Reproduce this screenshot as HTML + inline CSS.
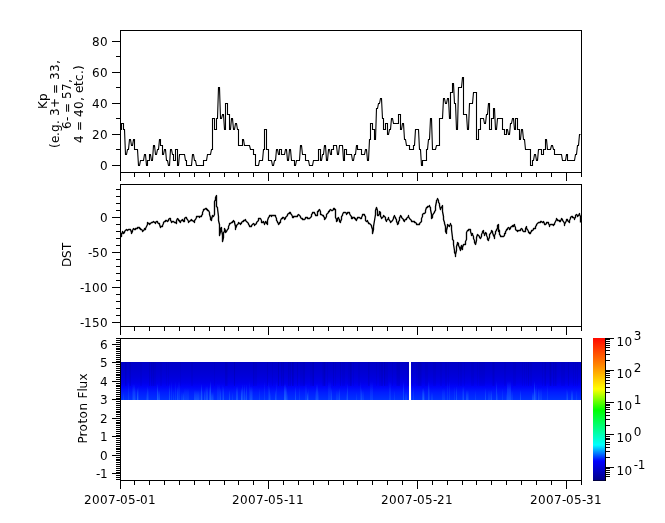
<!DOCTYPE html>
<html><head><meta charset="utf-8"><title>Kp, DST, Proton Flux</title>
<style>
html,body{margin:0;padding:0;background:#fff;}
body{width:665px;height:523px;overflow:hidden;}
svg{display:block;position:absolute;left:0;top:0;}
text{fill:#000;}
</style></head><body>
<svg width="665" height="523" viewBox="0 0 665 523">
<defs>
<linearGradient id="cb" x1="0" y1="0" x2="0" y2="1">
<stop offset="0" stop-color="#ff0800"/>
<stop offset="0.1818" stop-color="#ff8000"/>
<stop offset="0.3566" stop-color="#ffff00"/>
<stop offset="0.5035" stop-color="#00ff00"/>
<stop offset="0.7483" stop-color="#00ffff"/>
<stop offset="0.8601" stop-color="#0000ff"/>
<stop offset="1" stop-color="#000084"/>
</linearGradient>
<linearGradient id="band" x1="0" y1="0" x2="0" y2="1">
<stop offset="0" stop-color="#0000c6"/>
<stop offset="0.20" stop-color="#0000d0"/>
<stop offset="0.40" stop-color="#0000dc"/>
<stop offset="0.55" stop-color="#0000ea"/>
<stop offset="0.65" stop-color="#0004fa"/>
<stop offset="0.80" stop-color="#001cff"/>
<stop offset="1" stop-color="#0034ff"/>
</linearGradient>
<linearGradient id="lt" x1="0" y1="0" x2="0" y2="1">
<stop offset="0" stop-color="#2070ff" stop-opacity="0"/>
<stop offset="0.5" stop-color="#2070ff" stop-opacity="0.7"/>
<stop offset="1" stop-color="#2878ff" stop-opacity="1"/>
</linearGradient>
</defs>
<rect x="0" y="0" width="665" height="523" fill="#fff"/>
<g shape-rendering="crispEdges">
<rect x="121" y="362" width="460" height="38" fill="url(#band)"/>
<rect x="121" y="362" width="1" height="24" fill="#000070" opacity="0.07"/><rect x="125" y="362" width="1" height="24" fill="#000070" opacity="0.14"/><rect x="126" y="362" width="1" height="24" fill="#000070" opacity="0.07"/><rect x="129" y="362" width="1" height="24" fill="#000070" opacity="0.07"/><rect x="130" y="362" width="1" height="24" fill="#000070" opacity="0.14"/><rect x="140" y="362" width="2" height="24" fill="#000070" opacity="0.07"/><rect x="149" y="362" width="1" height="24" fill="#000070" opacity="0.14"/><rect x="151" y="362" width="1" height="24" fill="#000070" opacity="0.14"/><rect x="152" y="362" width="1" height="24" fill="#000070" opacity="0.07"/><rect x="153" y="362" width="1" height="24" fill="#000070" opacity="0.14"/><rect x="154" y="362" width="2" height="24" fill="#000070" opacity="0.07"/><rect x="160" y="362" width="2" height="24" fill="#000070" opacity="0.07"/><rect x="166" y="362" width="1" height="24" fill="#000070" opacity="0.07"/><rect x="168" y="362" width="1" height="24" fill="#000070" opacity="0.07"/><rect x="180" y="362" width="1" height="24" fill="#000070" opacity="0.07"/><rect x="191" y="362" width="2" height="24" fill="#000070" opacity="0.07"/><rect x="214" y="362" width="1" height="24" fill="#000070" opacity="0.07"/><rect x="225" y="362" width="2" height="24" fill="#000070" opacity="0.14"/><rect x="227" y="362" width="1" height="24" fill="#000070" opacity="0.07"/><rect x="234" y="362" width="1" height="24" fill="#000070" opacity="0.21"/><rect x="253" y="362" width="1" height="24" fill="#000070" opacity="0.14"/><rect x="254" y="362" width="3" height="24" fill="#000070" opacity="0.07"/><rect x="267" y="362" width="1" height="24" fill="#000070" opacity="0.14"/><rect x="272" y="362" width="1" height="24" fill="#000070" opacity="0.07"/><rect x="278" y="362" width="1" height="24" fill="#000070" opacity="0.21"/><rect x="281" y="362" width="1" height="24" fill="#000070" opacity="0.14"/><rect x="282" y="362" width="1" height="24" fill="#000070" opacity="0.07"/><rect x="283" y="362" width="1" height="24" fill="#000070" opacity="0.14"/><rect x="288" y="362" width="1" height="24" fill="#000070" opacity="0.14"/><rect x="289" y="362" width="1" height="24" fill="#000070" opacity="0.07"/><rect x="290" y="362" width="1" height="24" fill="#000070" opacity="0.14"/><rect x="292" y="362" width="1" height="24" fill="#000070" opacity="0.21"/><rect x="293" y="362" width="1" height="24" fill="#000070" opacity="0.14"/><rect x="297" y="362" width="1" height="24" fill="#000070" opacity="0.14"/><rect x="300" y="362" width="3" height="24" fill="#000070" opacity="0.07"/><rect x="303" y="362" width="2" height="24" fill="#000070" opacity="0.14"/><rect x="310" y="362" width="2" height="24" fill="#000070" opacity="0.07"/><rect x="312" y="362" width="1" height="24" fill="#000070" opacity="0.14"/><rect x="313" y="362" width="1" height="24" fill="#000070" opacity="0.21"/><rect x="322" y="362" width="1" height="24" fill="#000070" opacity="0.07"/><rect x="323" y="362" width="1" height="24" fill="#000070" opacity="0.14"/><rect x="324" y="362" width="1" height="24" fill="#000070" opacity="0.21"/><rect x="325" y="362" width="1" height="24" fill="#000070" opacity="0.07"/><rect x="327" y="362" width="1" height="24" fill="#000070" opacity="0.07"/><rect x="333" y="362" width="1" height="24" fill="#000070" opacity="0.14"/><rect x="335" y="362" width="1" height="24" fill="#000070" opacity="0.07"/><rect x="340" y="362" width="1" height="24" fill="#000070" opacity="0.14"/><rect x="342" y="362" width="3" height="24" fill="#000070" opacity="0.07"/><rect x="348" y="362" width="2" height="24" fill="#000070" opacity="0.07"/><rect x="350" y="362" width="1" height="24" fill="#000070" opacity="0.21"/><rect x="351" y="362" width="1" height="24" fill="#000070" opacity="0.14"/><rect x="353" y="362" width="1" height="24" fill="#000070" opacity="0.07"/><rect x="358" y="362" width="2" height="24" fill="#000070" opacity="0.07"/><rect x="368" y="362" width="1" height="24" fill="#000070" opacity="0.14"/><rect x="369" y="362" width="1" height="24" fill="#000070" opacity="0.07"/><rect x="376" y="362" width="1" height="24" fill="#000070" opacity="0.07"/><rect x="379" y="362" width="2" height="24" fill="#000070" opacity="0.07"/><rect x="381" y="362" width="2" height="24" fill="#000070" opacity="0.14"/><rect x="384" y="362" width="1" height="24" fill="#000070" opacity="0.21"/><rect x="385" y="362" width="3" height="24" fill="#000070" opacity="0.07"/><rect x="392" y="362" width="1" height="24" fill="#000070" opacity="0.07"/><rect x="396" y="362" width="1" height="24" fill="#000070" opacity="0.07"/><rect x="397" y="362" width="3" height="24" fill="#000070" opacity="0.14"/><rect x="407" y="362" width="1" height="24" fill="#000070" opacity="0.07"/><rect x="408" y="362" width="2" height="24" fill="#000070" opacity="0.14"/><rect x="412" y="362" width="1" height="24" fill="#000070" opacity="0.07"/><rect x="416" y="362" width="2" height="24" fill="#000070" opacity="0.07"/><rect x="418" y="362" width="3" height="24" fill="#000070" opacity="0.14"/><rect x="421" y="362" width="1" height="24" fill="#000070" opacity="0.07"/><rect x="425" y="362" width="3" height="24" fill="#000070" opacity="0.07"/><rect x="433" y="362" width="3" height="24" fill="#000070" opacity="0.07"/><rect x="440" y="362" width="2" height="24" fill="#000070" opacity="0.07"/><rect x="445" y="362" width="2" height="24" fill="#000070" opacity="0.07"/><rect x="448" y="362" width="1" height="24" fill="#000070" opacity="0.07"/><rect x="458" y="362" width="1" height="24" fill="#000070" opacity="0.07"/><rect x="460" y="362" width="2" height="24" fill="#000070" opacity="0.07"/><rect x="464" y="362" width="1" height="24" fill="#000070" opacity="0.07"/><rect x="471" y="362" width="3" height="24" fill="#000070" opacity="0.07"/><rect x="477" y="362" width="1" height="24" fill="#000070" opacity="0.07"/><rect x="479" y="362" width="6" height="24" fill="#000070" opacity="0.07"/><rect x="492" y="362" width="1" height="24" fill="#000070" opacity="0.07"/><rect x="493" y="362" width="1" height="24" fill="#000070" opacity="0.14"/><rect x="494" y="362" width="1" height="24" fill="#000070" opacity="0.07"/><rect x="504" y="362" width="2" height="24" fill="#000070" opacity="0.07"/><rect x="513" y="362" width="3" height="24" fill="#000070" opacity="0.07"/><rect x="522" y="362" width="1" height="24" fill="#000070" opacity="0.07"/><rect x="524" y="362" width="1" height="24" fill="#000070" opacity="0.07"/><rect x="526" y="362" width="1" height="24" fill="#000070" opacity="0.07"/><rect x="528" y="362" width="1" height="24" fill="#000070" opacity="0.14"/><rect x="530" y="362" width="2" height="24" fill="#000070" opacity="0.07"/><rect x="542" y="362" width="1" height="24" fill="#000070" opacity="0.07"/><rect x="544" y="362" width="1" height="24" fill="#000070" opacity="0.07"/><rect x="545" y="362" width="1" height="24" fill="#000070" opacity="0.14"/><rect x="549" y="362" width="1" height="24" fill="#000070" opacity="0.07"/><rect x="550" y="362" width="1" height="24" fill="#000070" opacity="0.21"/><rect x="551" y="362" width="1" height="24" fill="#000070" opacity="0.07"/><rect x="553" y="362" width="1" height="24" fill="#000070" opacity="0.14"/><rect x="554" y="362" width="1" height="24" fill="#000070" opacity="0.07"/><rect x="555" y="362" width="1" height="24" fill="#000070" opacity="0.14"/><rect x="556" y="362" width="1" height="24" fill="#000070" opacity="0.07"/><rect x="561" y="362" width="4" height="24" fill="#000070" opacity="0.07"/><rect x="568" y="362" width="1" height="24" fill="#000070" opacity="0.14"/><rect x="573" y="362" width="1" height="24" fill="#000070" opacity="0.07"/><rect x="575" y="362" width="1" height="24" fill="#000070" opacity="0.07"/><rect x="577" y="362" width="1" height="24" fill="#000070" opacity="0.07"/><rect x="123" y="392" width="1" height="8" fill="url(#lt)" opacity="0.24"/><rect x="128" y="381" width="1" height="19" fill="url(#lt)" opacity="0.24"/><rect x="132" y="384" width="1" height="16" fill="url(#lt)" opacity="0.24"/><rect x="133" y="384" width="2" height="16" fill="url(#lt)" opacity="0.48"/><rect x="135" y="388" width="1" height="12" fill="url(#lt)" opacity="0.24"/><rect x="137" y="388" width="1" height="12" fill="url(#lt)" opacity="0.72"/><rect x="138" y="386" width="1" height="14" fill="url(#lt)" opacity="0.24"/><rect x="146" y="392" width="1" height="8" fill="url(#lt)" opacity="0.24"/><rect x="147" y="386" width="1" height="14" fill="url(#lt)" opacity="0.48"/><rect x="148" y="388" width="1" height="12" fill="url(#lt)" opacity="0.24"/><rect x="157" y="384" width="1" height="16" fill="url(#lt)" opacity="0.72"/><rect x="158" y="390" width="2" height="10" fill="url(#lt)" opacity="0.48"/><rect x="169" y="384" width="1" height="16" fill="url(#lt)" opacity="0.48"/><rect x="171" y="381" width="1" height="19" fill="url(#lt)" opacity="0.24"/><rect x="173" y="390" width="1" height="10" fill="url(#lt)" opacity="0.24"/><rect x="175" y="381" width="1" height="19" fill="url(#lt)" opacity="0.24"/><rect x="177" y="386" width="1" height="14" fill="url(#lt)" opacity="0.48"/><rect x="178" y="381" width="2" height="19" fill="url(#lt)" opacity="0.24"/><rect x="181" y="392" width="2" height="8" fill="url(#lt)" opacity="0.24"/><rect x="183" y="392" width="1" height="8" fill="url(#lt)" opacity="0.48"/><rect x="184" y="388" width="5" height="12" fill="url(#lt)" opacity="0.24"/><rect x="194" y="390" width="5" height="10" fill="url(#lt)" opacity="0.48"/><rect x="199" y="390" width="2" height="10" fill="url(#lt)" opacity="0.24"/><rect x="201" y="384" width="1" height="16" fill="url(#lt)" opacity="0.72"/><rect x="202" y="390" width="1" height="10" fill="url(#lt)" opacity="0.24"/><rect x="204" y="390" width="1" height="10" fill="url(#lt)" opacity="0.48"/><rect x="205" y="386" width="1" height="14" fill="url(#lt)" opacity="0.24"/><rect x="206" y="386" width="2" height="14" fill="url(#lt)" opacity="0.48"/><rect x="209" y="386" width="1" height="14" fill="url(#lt)" opacity="0.48"/><rect x="210" y="381" width="1" height="19" fill="url(#lt)" opacity="0.72"/><rect x="211" y="392" width="2" height="8" fill="url(#lt)" opacity="0.48"/><rect x="213" y="392" width="1" height="8" fill="url(#lt)" opacity="0.24"/><rect x="217" y="384" width="3" height="16" fill="url(#lt)" opacity="0.24"/><rect x="220" y="388" width="1" height="12" fill="url(#lt)" opacity="0.48"/><rect x="222" y="384" width="1" height="16" fill="url(#lt)" opacity="0.24"/><rect x="223" y="386" width="1" height="14" fill="url(#lt)" opacity="0.48"/><rect x="229" y="390" width="1" height="10" fill="url(#lt)" opacity="0.48"/><rect x="232" y="392" width="1" height="8" fill="url(#lt)" opacity="0.24"/><rect x="236" y="386" width="2" height="14" fill="url(#lt)" opacity="0.48"/><rect x="241" y="388" width="1" height="12" fill="url(#lt)" opacity="0.72"/><rect x="242" y="384" width="1" height="16" fill="url(#lt)" opacity="0.48"/><rect x="243" y="388" width="1" height="12" fill="url(#lt)" opacity="0.24"/><rect x="244" y="384" width="1" height="16" fill="url(#lt)" opacity="0.48"/><rect x="245" y="392" width="1" height="8" fill="url(#lt)" opacity="0.24"/><rect x="246" y="384" width="1" height="16" fill="url(#lt)" opacity="0.48"/><rect x="249" y="381" width="1" height="19" fill="url(#lt)" opacity="0.24"/><rect x="250" y="386" width="2" height="14" fill="url(#lt)" opacity="0.48"/><rect x="252" y="386" width="1" height="14" fill="url(#lt)" opacity="0.24"/><rect x="259" y="388" width="1" height="12" fill="url(#lt)" opacity="0.24"/><rect x="264" y="381" width="1" height="19" fill="url(#lt)" opacity="0.24"/><rect x="268" y="381" width="1" height="19" fill="url(#lt)" opacity="0.24"/><rect x="269" y="386" width="1" height="14" fill="url(#lt)" opacity="0.48"/><rect x="270" y="392" width="1" height="8" fill="url(#lt)" opacity="0.24"/><rect x="275" y="390" width="1" height="10" fill="url(#lt)" opacity="0.48"/><rect x="276" y="381" width="1" height="19" fill="url(#lt)" opacity="0.24"/><rect x="284" y="384" width="2" height="16" fill="url(#lt)" opacity="0.72"/><rect x="286" y="386" width="1" height="14" fill="url(#lt)" opacity="0.48"/><rect x="287" y="392" width="1" height="8" fill="url(#lt)" opacity="0.24"/><rect x="295" y="386" width="1" height="14" fill="url(#lt)" opacity="0.48"/><rect x="299" y="386" width="1" height="14" fill="url(#lt)" opacity="0.24"/><rect x="305" y="384" width="2" height="16" fill="url(#lt)" opacity="0.24"/><rect x="307" y="392" width="1" height="8" fill="url(#lt)" opacity="0.72"/><rect x="308" y="388" width="1" height="12" fill="url(#lt)" opacity="0.24"/><rect x="315" y="390" width="1" height="10" fill="url(#lt)" opacity="0.24"/><rect x="316" y="384" width="2" height="16" fill="url(#lt)" opacity="0.48"/><rect x="318" y="390" width="1" height="10" fill="url(#lt)" opacity="0.24"/><rect x="328" y="381" width="3" height="19" fill="url(#lt)" opacity="0.24"/><rect x="331" y="388" width="1" height="12" fill="url(#lt)" opacity="0.48"/><rect x="336" y="390" width="3" height="10" fill="url(#lt)" opacity="0.24"/><rect x="339" y="388" width="1" height="12" fill="url(#lt)" opacity="0.48"/><rect x="346" y="392" width="1" height="8" fill="url(#lt)" opacity="0.24"/><rect x="347" y="384" width="1" height="16" fill="url(#lt)" opacity="0.48"/><rect x="356" y="392" width="1" height="8" fill="url(#lt)" opacity="0.24"/><rect x="360" y="381" width="1" height="19" fill="url(#lt)" opacity="0.24"/><rect x="361" y="388" width="1" height="12" fill="url(#lt)" opacity="0.48"/><rect x="362" y="390" width="2" height="10" fill="url(#lt)" opacity="0.24"/><rect x="370" y="381" width="3" height="19" fill="url(#lt)" opacity="0.24"/><rect x="389" y="381" width="2" height="19" fill="url(#lt)" opacity="0.24"/><rect x="394" y="390" width="1" height="10" fill="url(#lt)" opacity="0.24"/><rect x="403" y="381" width="1" height="19" fill="url(#lt)" opacity="0.48"/><rect x="405" y="392" width="2" height="8" fill="url(#lt)" opacity="0.24"/><rect x="411" y="384" width="1" height="16" fill="url(#lt)" opacity="0.24"/><rect x="413" y="386" width="1" height="14" fill="url(#lt)" opacity="0.24"/><rect x="422" y="388" width="1" height="12" fill="url(#lt)" opacity="0.48"/><rect x="423" y="388" width="1" height="12" fill="url(#lt)" opacity="0.72"/><rect x="424" y="390" width="1" height="10" fill="url(#lt)" opacity="0.24"/><rect x="428" y="381" width="1" height="19" fill="url(#lt)" opacity="0.48"/><rect x="429" y="384" width="1" height="16" fill="url(#lt)" opacity="0.24"/><rect x="431" y="392" width="2" height="8" fill="url(#lt)" opacity="0.24"/><rect x="442" y="388" width="3" height="12" fill="url(#lt)" opacity="0.24"/><rect x="447" y="381" width="1" height="19" fill="url(#lt)" opacity="0.24"/><rect x="449" y="381" width="1" height="19" fill="url(#lt)" opacity="0.24"/><rect x="454" y="386" width="1" height="14" fill="url(#lt)" opacity="0.24"/><rect x="456" y="386" width="1" height="14" fill="url(#lt)" opacity="0.48"/><rect x="462" y="386" width="1" height="14" fill="url(#lt)" opacity="0.24"/><rect x="463" y="386" width="1" height="14" fill="url(#lt)" opacity="0.48"/><rect x="466" y="390" width="2" height="10" fill="url(#lt)" opacity="0.48"/><rect x="468" y="390" width="1" height="10" fill="url(#lt)" opacity="0.24"/><rect x="475" y="390" width="1" height="10" fill="url(#lt)" opacity="0.24"/><rect x="485" y="388" width="1" height="12" fill="url(#lt)" opacity="0.48"/><rect x="488" y="390" width="3" height="10" fill="url(#lt)" opacity="0.24"/><rect x="491" y="390" width="1" height="10" fill="url(#lt)" opacity="0.48"/><rect x="496" y="381" width="1" height="19" fill="url(#lt)" opacity="0.48"/><rect x="497" y="392" width="1" height="8" fill="url(#lt)" opacity="0.24"/><rect x="502" y="388" width="1" height="12" fill="url(#lt)" opacity="0.24"/><rect x="506" y="392" width="1" height="8" fill="url(#lt)" opacity="0.24"/><rect x="507" y="381" width="4" height="19" fill="url(#lt)" opacity="0.48"/><rect x="511" y="390" width="2" height="10" fill="url(#lt)" opacity="0.24"/><rect x="520" y="390" width="1" height="10" fill="url(#lt)" opacity="0.48"/><rect x="532" y="392" width="2" height="8" fill="url(#lt)" opacity="0.48"/><rect x="534" y="381" width="1" height="19" fill="url(#lt)" opacity="0.72"/><rect x="535" y="388" width="1" height="12" fill="url(#lt)" opacity="0.48"/><rect x="536" y="384" width="1" height="16" fill="url(#lt)" opacity="0.24"/><rect x="538" y="388" width="1" height="12" fill="url(#lt)" opacity="0.48"/><rect x="539" y="388" width="3" height="12" fill="url(#lt)" opacity="0.24"/><rect x="547" y="384" width="1" height="16" fill="url(#lt)" opacity="0.24"/><rect x="566" y="388" width="1" height="12" fill="url(#lt)" opacity="0.24"/><rect x="567" y="390" width="1" height="10" fill="url(#lt)" opacity="0.48"/><rect x="571" y="390" width="2" height="10" fill="url(#lt)" opacity="0.48"/><rect x="576" y="390" width="1" height="10" fill="url(#lt)" opacity="0.24"/>
<rect x="409" y="362" width="2" height="38" fill="#fff"/>
<rect x="593" y="338" width="12" height="143" fill="url(#cb)"/>
<rect x="593" y="480" width="13" height="1" fill="#000040"/>
<rect x="120" y="30" width="462" height="1" fill="#000"/><rect x="120" y="172" width="462" height="1" fill="#000"/><rect x="120" y="30" width="1" height="143" fill="#000"/><rect x="581" y="30" width="1" height="143" fill="#000"/><rect x="120" y="173" width="1" height="8" fill="#000"/><rect x="134" y="173" width="1" height="4" fill="#000"/><rect x="149" y="173" width="1" height="4" fill="#000"/><rect x="164" y="173" width="1" height="4" fill="#000"/><rect x="179" y="173" width="1" height="4" fill="#000"/><rect x="194" y="173" width="1" height="4" fill="#000"/><rect x="209" y="173" width="1" height="4" fill="#000"/><rect x="224" y="173" width="1" height="4" fill="#000"/><rect x="238" y="173" width="1" height="4" fill="#000"/><rect x="253" y="173" width="1" height="4" fill="#000"/><rect x="268" y="173" width="1" height="8" fill="#000"/><rect x="283" y="173" width="1" height="4" fill="#000"/><rect x="298" y="173" width="1" height="4" fill="#000"/><rect x="313" y="173" width="1" height="4" fill="#000"/><rect x="328" y="173" width="1" height="4" fill="#000"/><rect x="343" y="173" width="1" height="4" fill="#000"/><rect x="357" y="173" width="1" height="4" fill="#000"/><rect x="372" y="173" width="1" height="4" fill="#000"/><rect x="387" y="173" width="1" height="4" fill="#000"/><rect x="402" y="173" width="1" height="4" fill="#000"/><rect x="417" y="173" width="1" height="8" fill="#000"/><rect x="432" y="173" width="1" height="4" fill="#000"/><rect x="447" y="173" width="1" height="4" fill="#000"/><rect x="462" y="173" width="1" height="4" fill="#000"/><rect x="476" y="173" width="1" height="4" fill="#000"/><rect x="491" y="173" width="1" height="4" fill="#000"/><rect x="506" y="173" width="1" height="4" fill="#000"/><rect x="521" y="173" width="1" height="4" fill="#000"/><rect x="536" y="173" width="1" height="4" fill="#000"/><rect x="551" y="173" width="1" height="4" fill="#000"/><rect x="566" y="173" width="1" height="8" fill="#000"/><rect x="581" y="173" width="1" height="4" fill="#000"/><rect x="112" y="165" width="8" height="1" fill="#000"/><rect x="116" y="149" width="4" height="1" fill="#000"/><rect x="112" y="134" width="8" height="1" fill="#000"/><rect x="116" y="118" width="4" height="1" fill="#000"/><rect x="112" y="103" width="8" height="1" fill="#000"/><rect x="116" y="87" width="4" height="1" fill="#000"/><rect x="112" y="72" width="8" height="1" fill="#000"/><rect x="116" y="56" width="4" height="1" fill="#000"/><rect x="112" y="41" width="8" height="1" fill="#000"/><rect x="120" y="184" width="462" height="1" fill="#000"/><rect x="120" y="326" width="462" height="1" fill="#000"/><rect x="120" y="184" width="1" height="143" fill="#000"/><rect x="581" y="184" width="1" height="143" fill="#000"/><rect x="120" y="327" width="1" height="8" fill="#000"/><rect x="134" y="327" width="1" height="4" fill="#000"/><rect x="149" y="327" width="1" height="4" fill="#000"/><rect x="164" y="327" width="1" height="4" fill="#000"/><rect x="179" y="327" width="1" height="4" fill="#000"/><rect x="194" y="327" width="1" height="4" fill="#000"/><rect x="209" y="327" width="1" height="4" fill="#000"/><rect x="224" y="327" width="1" height="4" fill="#000"/><rect x="238" y="327" width="1" height="4" fill="#000"/><rect x="253" y="327" width="1" height="4" fill="#000"/><rect x="268" y="327" width="1" height="8" fill="#000"/><rect x="283" y="327" width="1" height="4" fill="#000"/><rect x="298" y="327" width="1" height="4" fill="#000"/><rect x="313" y="327" width="1" height="4" fill="#000"/><rect x="328" y="327" width="1" height="4" fill="#000"/><rect x="343" y="327" width="1" height="4" fill="#000"/><rect x="357" y="327" width="1" height="4" fill="#000"/><rect x="372" y="327" width="1" height="4" fill="#000"/><rect x="387" y="327" width="1" height="4" fill="#000"/><rect x="402" y="327" width="1" height="4" fill="#000"/><rect x="417" y="327" width="1" height="8" fill="#000"/><rect x="432" y="327" width="1" height="4" fill="#000"/><rect x="447" y="327" width="1" height="4" fill="#000"/><rect x="462" y="327" width="1" height="4" fill="#000"/><rect x="476" y="327" width="1" height="4" fill="#000"/><rect x="491" y="327" width="1" height="4" fill="#000"/><rect x="506" y="327" width="1" height="4" fill="#000"/><rect x="521" y="327" width="1" height="4" fill="#000"/><rect x="536" y="327" width="1" height="4" fill="#000"/><rect x="551" y="327" width="1" height="4" fill="#000"/><rect x="566" y="327" width="1" height="8" fill="#000"/><rect x="581" y="327" width="1" height="4" fill="#000"/><rect x="112" y="322" width="8" height="1" fill="#000"/><rect x="116" y="315" width="4" height="1" fill="#000"/><rect x="116" y="308" width="4" height="1" fill="#000"/><rect x="116" y="301" width="4" height="1" fill="#000"/><rect x="116" y="294" width="4" height="1" fill="#000"/><rect x="112" y="287" width="8" height="1" fill="#000"/><rect x="116" y="280" width="4" height="1" fill="#000"/><rect x="116" y="273" width="4" height="1" fill="#000"/><rect x="116" y="266" width="4" height="1" fill="#000"/><rect x="116" y="259" width="4" height="1" fill="#000"/><rect x="112" y="252" width="8" height="1" fill="#000"/><rect x="116" y="245" width="4" height="1" fill="#000"/><rect x="116" y="238" width="4" height="1" fill="#000"/><rect x="116" y="231" width="4" height="1" fill="#000"/><rect x="116" y="224" width="4" height="1" fill="#000"/><rect x="112" y="217" width="8" height="1" fill="#000"/><rect x="116" y="210" width="4" height="1" fill="#000"/><rect x="116" y="203" width="4" height="1" fill="#000"/><rect x="116" y="196" width="4" height="1" fill="#000"/><rect x="116" y="189" width="4" height="1" fill="#000"/><rect x="120" y="338" width="462" height="1" fill="#000"/><rect x="120" y="480" width="462" height="1" fill="#000"/><rect x="120" y="338" width="1" height="143" fill="#000"/><rect x="581" y="338" width="1" height="143" fill="#000"/><rect x="120" y="481" width="1" height="8" fill="#000"/><rect x="134" y="481" width="1" height="4" fill="#000"/><rect x="149" y="481" width="1" height="4" fill="#000"/><rect x="164" y="481" width="1" height="4" fill="#000"/><rect x="179" y="481" width="1" height="4" fill="#000"/><rect x="194" y="481" width="1" height="4" fill="#000"/><rect x="209" y="481" width="1" height="4" fill="#000"/><rect x="224" y="481" width="1" height="4" fill="#000"/><rect x="238" y="481" width="1" height="4" fill="#000"/><rect x="253" y="481" width="1" height="4" fill="#000"/><rect x="268" y="481" width="1" height="8" fill="#000"/><rect x="283" y="481" width="1" height="4" fill="#000"/><rect x="298" y="481" width="1" height="4" fill="#000"/><rect x="313" y="481" width="1" height="4" fill="#000"/><rect x="328" y="481" width="1" height="4" fill="#000"/><rect x="343" y="481" width="1" height="4" fill="#000"/><rect x="357" y="481" width="1" height="4" fill="#000"/><rect x="372" y="481" width="1" height="4" fill="#000"/><rect x="387" y="481" width="1" height="4" fill="#000"/><rect x="402" y="481" width="1" height="4" fill="#000"/><rect x="417" y="481" width="1" height="8" fill="#000"/><rect x="432" y="481" width="1" height="4" fill="#000"/><rect x="447" y="481" width="1" height="4" fill="#000"/><rect x="462" y="481" width="1" height="4" fill="#000"/><rect x="476" y="481" width="1" height="4" fill="#000"/><rect x="491" y="481" width="1" height="4" fill="#000"/><rect x="506" y="481" width="1" height="4" fill="#000"/><rect x="521" y="481" width="1" height="4" fill="#000"/><rect x="536" y="481" width="1" height="4" fill="#000"/><rect x="551" y="481" width="1" height="4" fill="#000"/><rect x="566" y="481" width="1" height="8" fill="#000"/><rect x="581" y="481" width="1" height="4" fill="#000"/><rect x="116" y="479" width="4" height="1" fill="#000"/><rect x="116" y="477" width="4" height="1" fill="#000"/><rect x="116" y="475" width="4" height="1" fill="#000"/><rect x="112" y="473" width="8" height="1" fill="#000"/><rect x="116" y="472" width="4" height="1" fill="#000"/><rect x="116" y="470" width="4" height="1" fill="#000"/><rect x="116" y="468" width="4" height="1" fill="#000"/><rect x="116" y="466" width="4" height="1" fill="#000"/><rect x="116" y="464" width="4" height="1" fill="#000"/><rect x="116" y="462" width="4" height="1" fill="#000"/><rect x="116" y="460" width="4" height="1" fill="#000"/><rect x="116" y="459" width="4" height="1" fill="#000"/><rect x="116" y="457" width="4" height="1" fill="#000"/><rect x="112" y="455" width="8" height="1" fill="#000"/><rect x="116" y="453" width="4" height="1" fill="#000"/><rect x="116" y="451" width="4" height="1" fill="#000"/><rect x="116" y="449" width="4" height="1" fill="#000"/><rect x="116" y="448" width="4" height="1" fill="#000"/><rect x="116" y="446" width="4" height="1" fill="#000"/><rect x="116" y="444" width="4" height="1" fill="#000"/><rect x="116" y="442" width="4" height="1" fill="#000"/><rect x="116" y="440" width="4" height="1" fill="#000"/><rect x="116" y="438" width="4" height="1" fill="#000"/><rect x="112" y="436" width="8" height="1" fill="#000"/><rect x="116" y="435" width="4" height="1" fill="#000"/><rect x="116" y="433" width="4" height="1" fill="#000"/><rect x="116" y="431" width="4" height="1" fill="#000"/><rect x="116" y="429" width="4" height="1" fill="#000"/><rect x="116" y="427" width="4" height="1" fill="#000"/><rect x="116" y="425" width="4" height="1" fill="#000"/><rect x="116" y="423" width="4" height="1" fill="#000"/><rect x="116" y="422" width="4" height="1" fill="#000"/><rect x="116" y="420" width="4" height="1" fill="#000"/><rect x="112" y="418" width="8" height="1" fill="#000"/><rect x="116" y="416" width="4" height="1" fill="#000"/><rect x="116" y="414" width="4" height="1" fill="#000"/><rect x="116" y="412" width="4" height="1" fill="#000"/><rect x="116" y="411" width="4" height="1" fill="#000"/><rect x="116" y="409" width="4" height="1" fill="#000"/><rect x="116" y="407" width="4" height="1" fill="#000"/><rect x="116" y="405" width="4" height="1" fill="#000"/><rect x="116" y="403" width="4" height="1" fill="#000"/><rect x="116" y="401" width="4" height="1" fill="#000"/><rect x="112" y="399" width="8" height="1" fill="#000"/><rect x="116" y="398" width="4" height="1" fill="#000"/><rect x="116" y="396" width="4" height="1" fill="#000"/><rect x="116" y="394" width="4" height="1" fill="#000"/><rect x="116" y="392" width="4" height="1" fill="#000"/><rect x="116" y="390" width="4" height="1" fill="#000"/><rect x="116" y="388" width="4" height="1" fill="#000"/><rect x="116" y="386" width="4" height="1" fill="#000"/><rect x="116" y="385" width="4" height="1" fill="#000"/><rect x="116" y="383" width="4" height="1" fill="#000"/><rect x="112" y="381" width="8" height="1" fill="#000"/><rect x="116" y="379" width="4" height="1" fill="#000"/><rect x="116" y="377" width="4" height="1" fill="#000"/><rect x="116" y="375" width="4" height="1" fill="#000"/><rect x="116" y="374" width="4" height="1" fill="#000"/><rect x="116" y="372" width="4" height="1" fill="#000"/><rect x="116" y="370" width="4" height="1" fill="#000"/><rect x="116" y="368" width="4" height="1" fill="#000"/><rect x="116" y="366" width="4" height="1" fill="#000"/><rect x="116" y="364" width="4" height="1" fill="#000"/><rect x="112" y="362" width="8" height="1" fill="#000"/><rect x="116" y="361" width="4" height="1" fill="#000"/><rect x="116" y="359" width="4" height="1" fill="#000"/><rect x="116" y="357" width="4" height="1" fill="#000"/><rect x="116" y="355" width="4" height="1" fill="#000"/><rect x="116" y="353" width="4" height="1" fill="#000"/><rect x="116" y="351" width="4" height="1" fill="#000"/><rect x="116" y="349" width="4" height="1" fill="#000"/><rect x="116" y="348" width="4" height="1" fill="#000"/><rect x="116" y="346" width="4" height="1" fill="#000"/><rect x="112" y="344" width="8" height="1" fill="#000"/><rect x="116" y="342" width="4" height="1" fill="#000"/><rect x="116" y="340" width="4" height="1" fill="#000"/><rect x="116" y="338" width="4" height="1" fill="#000"/><rect x="605" y="338" width="1" height="143" fill="#000"/><rect x="606" y="338" width="8" height="1" fill="#000"/><rect x="606" y="339" width="4" height="1" fill="#000"/><rect x="606" y="341" width="4" height="1" fill="#000"/><rect x="606" y="343" width="4" height="1" fill="#000"/><rect x="606" y="345" width="4" height="1" fill="#000"/><rect x="606" y="347" width="4" height="1" fill="#000"/><rect x="606" y="350" width="4" height="1" fill="#000"/><rect x="606" y="354" width="4" height="1" fill="#000"/><rect x="606" y="360" width="4" height="1" fill="#000"/><rect x="606" y="370" width="8" height="1" fill="#000"/><rect x="606" y="371" width="4" height="1" fill="#000"/><rect x="606" y="373" width="4" height="1" fill="#000"/><rect x="606" y="375" width="4" height="1" fill="#000"/><rect x="606" y="377" width="4" height="1" fill="#000"/><rect x="606" y="380" width="4" height="1" fill="#000"/><rect x="606" y="383" width="4" height="1" fill="#000"/><rect x="606" y="387" width="4" height="1" fill="#000"/><rect x="606" y="392" width="4" height="1" fill="#000"/><rect x="606" y="402" width="8" height="1" fill="#000"/><rect x="606" y="404" width="4" height="1" fill="#000"/><rect x="606" y="405" width="4" height="1" fill="#000"/><rect x="606" y="407" width="4" height="1" fill="#000"/><rect x="606" y="409" width="4" height="1" fill="#000"/><rect x="606" y="412" width="4" height="1" fill="#000"/><rect x="606" y="415" width="4" height="1" fill="#000"/><rect x="606" y="419" width="4" height="1" fill="#000"/><rect x="606" y="425" width="4" height="1" fill="#000"/><rect x="606" y="434" width="8" height="1" fill="#000"/><rect x="606" y="436" width="4" height="1" fill="#000"/><rect x="606" y="438" width="4" height="1" fill="#000"/><rect x="606" y="439" width="4" height="1" fill="#000"/><rect x="606" y="442" width="4" height="1" fill="#000"/><rect x="606" y="444" width="4" height="1" fill="#000"/><rect x="606" y="447" width="4" height="1" fill="#000"/><rect x="606" y="451" width="4" height="1" fill="#000"/><rect x="606" y="457" width="4" height="1" fill="#000"/><rect x="606" y="467" width="8" height="1" fill="#000"/><rect x="606" y="468" width="4" height="1" fill="#000"/><rect x="606" y="470" width="4" height="1" fill="#000"/><rect x="606" y="472" width="4" height="1" fill="#000"/><rect x="606" y="474" width="4" height="1" fill="#000"/><rect x="606" y="476" width="4" height="1" fill="#000"/>
</g>
<g>
<polyline points="120.50,129.50 121.50,129.50 121.50,123.50 122.50,123.50 123.50,123.50 123.50,129.50 124.50,129.50 125.50,154.50 126.50,154.50 127.50,149.50 128.50,149.50 129.50,139.50 130.50,139.50 131.50,145.50 132.50,145.50 133.50,139.50 134.50,139.50 134.50,149.50 135.50,149.50 136.50,149.50 137.50,149.50 138.50,165.50 139.50,165.50 140.50,160.50 141.50,160.50 142.50,160.50 143.50,160.50 144.50,154.50 145.50,154.50 146.50,165.50 147.50,165.50 147.50,160.50 148.50,160.50 149.50,160.50 149.50,154.50 150.50,154.50 151.50,160.50 152.50,160.50 153.50,145.50 154.50,145.50 155.50,154.50 156.50,154.50 157.50,149.50 158.50,149.50 159.50,139.50 160.50,139.50 160.50,145.50 161.50,145.50 162.50,145.50 162.50,154.50 163.50,154.50 164.50,149.50 165.50,149.50 166.50,160.50 167.50,160.50 168.50,165.50 169.50,165.50 170.50,149.50 171.50,149.50 172.50,154.50 173.50,154.50 173.50,160.50 174.50,160.50 175.50,160.50 175.50,149.50 176.50,149.50 177.50,149.50 177.50,165.50 178.50,165.50 179.50,154.50 180.50,154.50 181.50,154.50 182.50,154.50 183.50,154.50 184.50,154.50 185.50,160.50 186.50,160.50 186.50,165.50 187.50,165.50 188.50,165.50 189.50,165.50 190.50,165.50 191.50,165.50 192.50,154.50 193.50,154.50 194.50,160.50 195.50,160.50 196.50,165.50 197.50,165.50 198.50,165.50 199.50,165.50 200.50,165.50 201.50,165.50 202.50,165.50 203.50,165.50 203.50,160.50 204.50,160.50 205.50,160.50 206.50,160.50 207.50,154.50 208.50,154.50 209.50,154.50 210.50,154.50 211.50,149.50 212.50,149.50 212.50,118.50 213.50,118.50 214.50,118.50 214.50,129.50 215.50,129.50 216.50,129.50 216.50,118.50 217.50,118.50 218.50,87.50 219.50,87.50 220.50,118.50 221.50,118.50 222.50,114.50 223.50,114.50 224.50,129.50 225.50,129.50 225.50,103.50 226.50,103.50 227.50,103.50 227.50,114.50 228.50,114.50 229.50,114.50 229.50,129.50 230.50,129.50 231.50,118.50 232.50,118.50 233.50,129.50 234.50,129.50 235.50,123.50 236.50,123.50 237.50,129.50 238.50,129.50 238.50,145.50 239.50,145.50 240.50,145.50 241.50,145.50 242.50,145.50 242.50,139.50 243.50,139.50 244.50,145.50 245.50,145.50 246.50,145.50 247.50,145.50 248.50,145.50 249.50,145.50 250.50,149.50 251.50,149.50 252.50,149.50 253.50,149.50 253.50,154.50 254.50,154.50 255.50,154.50 255.50,165.50 256.50,165.50 257.50,165.50 258.50,165.50 259.50,160.50 260.50,160.50 261.50,160.50 262.50,160.50 263.50,149.50 264.50,149.50 264.50,129.50 265.50,129.50 266.50,129.50 266.50,149.50 267.50,149.50 268.50,149.50 268.50,160.50 269.50,160.50 270.50,160.50 271.50,160.50 272.50,165.50 273.50,165.50 274.50,160.50 275.50,160.50 276.50,149.50 277.50,149.50 278.50,154.50 279.50,154.50 279.50,149.50 280.50,149.50 281.50,149.50 281.50,154.50 282.50,154.50 283.50,154.50 284.50,154.50 285.50,149.50 286.50,149.50 287.50,160.50 288.50,160.50 289.50,149.50 290.50,149.50 291.50,160.50 292.50,160.50 293.50,160.50 294.50,160.50 294.50,165.50 295.50,165.50 296.50,160.50 297.50,160.50 298.50,160.50 299.50,160.50 300.50,145.50 301.50,145.50 302.50,154.50 303.50,154.50 304.50,154.50 305.50,154.50 305.50,160.50 306.50,160.50 307.50,160.50 308.50,160.50 309.50,165.50 310.50,165.50 311.50,165.50 312.50,165.50 313.50,160.50 314.50,160.50 315.50,160.50 316.50,160.50 317.50,160.50 318.50,160.50 318.50,149.50 319.50,149.50 320.50,149.50 320.50,160.50 321.50,160.50 322.50,154.50 323.50,154.50 324.50,145.50 325.50,145.50 326.50,160.50 327.50,160.50 328.50,149.50 329.50,149.50 330.50,154.50 331.50,154.50 331.50,149.50 332.50,149.50 333.50,149.50 333.50,145.50 334.50,145.50 335.50,145.50 336.50,145.50 337.50,154.50 338.50,154.50 339.50,145.50 340.50,145.50 341.50,145.50 342.50,145.50 343.50,160.50 344.50,160.50 344.50,149.50 345.50,149.50 346.50,149.50 346.50,154.50 347.50,154.50 348.50,154.50 349.50,154.50 350.50,154.50 351.50,154.50 352.50,160.50 353.50,160.50 354.50,154.50 355.50,154.50 356.50,145.50 357.50,145.50 357.50,149.50 358.50,149.50 359.50,149.50 360.50,149.50 361.50,149.50 361.50,154.50 362.50,154.50 363.50,154.50 364.50,154.50 365.50,149.50 366.50,149.50 367.50,160.50 368.50,160.50 369.50,139.50 370.50,139.50 370.50,123.50 371.50,123.50 372.50,123.50 372.50,129.50 373.50,129.50 374.50,129.50 374.50,139.50 375.50,139.50 376.50,108.50 377.50,108.50 378.50,103.50 379.50,103.50 380.50,98.50 381.50,98.50 382.50,118.50 383.50,118.50 383.50,129.50 384.50,129.50 385.50,129.50 385.50,123.50 386.50,123.50 387.50,123.50 387.50,134.50 388.50,134.50 389.50,129.50 390.50,129.50 391.50,118.50 392.50,118.50 393.50,123.50 394.50,123.50 395.50,123.50 396.50,123.50 397.50,123.50 398.50,123.50 398.50,114.50 399.50,114.50 400.50,114.50 400.50,129.50 401.50,129.50 402.50,123.50 403.50,123.50 404.50,139.50 405.50,139.50 406.50,145.50 407.50,145.50 408.50,145.50 409.50,145.50 409.50,149.50 410.50,149.50 411.50,149.50 412.50,149.50 413.50,149.50 413.50,145.50 414.50,145.50 415.50,129.50 416.50,129.50 417.50,129.50 418.50,129.50 419.50,149.50 420.50,149.50 421.50,165.50 422.50,165.50 422.50,160.50 423.50,160.50 424.50,160.50 425.50,160.50 426.50,160.50 426.50,149.50 427.50,149.50 428.50,139.50 429.50,139.50 430.50,118.50 431.50,118.50 432.50,149.50 433.50,149.50 434.50,149.50 435.50,149.50 436.50,145.50 437.50,145.50 438.50,145.50 439.50,145.50 439.50,118.50 440.50,118.50 441.50,118.50 442.50,118.50 443.50,98.50 444.50,98.50 445.50,103.50 446.50,103.50 447.50,98.50 448.50,98.50 449.50,118.50 450.50,118.50 450.50,92.50 451.50,92.50 452.50,92.50 452.50,83.50 453.50,83.50 454.50,103.50 455.50,103.50 456.50,129.50 457.50,129.50 458.50,87.50 459.50,87.50 460.50,87.50 461.50,87.50 462.50,77.50 463.50,77.50 463.50,114.50 464.50,114.50 465.50,114.50 466.50,114.50 467.50,129.50 468.50,129.50 469.50,103.50 470.50,103.50 471.50,103.50 472.50,103.50 473.50,92.50 474.50,92.50 475.50,92.50 476.50,92.50 476.50,139.50 477.50,139.50 478.50,139.50 478.50,129.50 479.50,129.50 480.50,129.50 480.50,118.50 481.50,118.50 482.50,118.50 483.50,118.50 484.50,123.50 485.50,123.50 486.50,114.50 487.50,114.50 488.50,103.50 489.50,103.50 489.50,129.50 490.50,129.50 491.50,129.50 491.50,118.50 492.50,118.50 493.50,118.50 493.50,108.50 494.50,108.50 495.50,129.50 496.50,129.50 497.50,118.50 498.50,118.50 499.50,118.50 500.50,118.50 501.50,118.50 502.50,118.50 502.50,129.50 503.50,129.50 504.50,129.50 504.50,134.50 505.50,134.50 506.50,134.50 506.50,129.50 507.50,129.50 508.50,134.50 509.50,134.50 510.50,123.50 511.50,123.50 512.50,118.50 513.50,118.50 514.50,129.50 515.50,129.50 515.50,118.50 516.50,118.50 517.50,118.50 517.50,129.50 518.50,129.50 519.50,129.50 519.50,139.50 520.50,139.50 521.50,129.50 522.50,129.50 523.50,139.50 524.50,139.50 525.50,149.50 526.50,149.50 527.50,149.50 528.50,149.50 529.50,149.50 530.50,149.50 530.50,165.50 531.50,165.50 532.50,165.50 532.50,160.50 533.50,160.50 534.50,154.50 535.50,154.50 536.50,160.50 537.50,160.50 538.50,149.50 539.50,149.50 540.50,149.50 541.50,149.50 541.50,154.50 542.50,154.50 543.50,154.50 543.50,149.50 544.50,149.50 545.50,149.50 545.50,139.50 546.50,139.50 547.50,149.50 548.50,149.50 549.50,149.50 550.50,149.50 551.50,145.50 552.50,145.50 553.50,149.50 554.50,149.50 554.50,154.50 555.50,154.50 556.50,154.50 557.50,154.50 558.50,154.50 559.50,154.50 560.50,154.50 561.50,154.50 562.50,160.50 563.50,160.50 564.50,160.50 565.50,160.50 566.50,154.50 567.50,154.50 567.50,160.50 568.50,160.50 569.50,160.50 570.50,160.50 571.50,160.50 572.50,160.50 573.50,160.50 574.50,160.50 575.50,154.50 576.50,154.50 577.50,145.50 578.50,145.50 579.50,134.50 580.50,134.50" fill="none" stroke="#000" stroke-width="1.1" stroke-linejoin="miter"/><polyline points="120.50,232.50 121.50,235.50 121.50,236.50 121.50,234.50 122.50,232.50 122.50,231.50 122.50,232.50 123.50,232.50 123.50,233.50 124.50,232.50 124.50,231.50 125.50,230.50 126.50,229.50 127.50,230.50 128.50,229.50 129.50,229.50 130.50,229.50 131.50,232.50 131.50,233.50 132.50,231.50 132.50,230.50 133.50,228.50 134.50,229.50 135.50,229.50 135.50,228.50 136.50,228.50 137.50,228.50 137.50,227.50 138.50,227.50 139.50,227.50 139.50,228.50 140.50,228.50 140.50,229.50 141.50,229.50 142.50,230.50 142.50,231.50 143.50,230.50 144.50,229.50 144.50,228.50 145.50,229.50 145.50,228.50 146.50,226.50 147.50,224.50 147.50,223.50 147.50,222.50 148.50,223.50 149.50,223.50 149.50,224.50 150.50,223.50 151.50,222.50 152.50,222.50 153.50,221.50 154.50,222.50 155.50,222.50 155.50,223.50 155.50,222.50 156.50,221.50 157.50,221.50 157.50,222.50 158.50,223.50 159.50,223.50 159.50,224.50 160.50,227.50 160.50,226.50 161.50,226.50 162.50,226.50 162.50,225.50 163.50,223.50 163.50,222.50 164.50,221.50 165.50,221.50 165.50,220.50 166.50,220.50 167.50,221.50 168.50,220.50 168.50,219.50 169.50,218.50 170.50,218.50 170.50,220.50 171.50,221.50 171.50,222.50 172.50,221.50 173.50,221.50 174.50,222.50 175.50,222.50 176.50,223.50 176.50,222.50 176.50,220.50 177.50,218.50 178.50,219.50 178.50,220.50 179.50,220.50 179.50,221.50 180.50,222.50 180.50,221.50 181.50,220.50 182.50,219.50 182.50,220.50 183.50,220.50 183.50,221.50 184.50,221.50 184.50,219.50 184.50,218.50 185.50,217.50 186.50,217.50 186.50,218.50 187.50,219.50 188.50,221.50 188.50,222.50 188.50,221.50 189.50,221.50 190.50,220.50 191.50,219.50 191.50,220.50 192.50,220.50 193.50,221.50 194.50,221.50 194.50,222.50 194.50,220.50 195.50,219.50 196.50,217.50 196.50,216.50 197.50,216.50 198.50,216.50 199.50,216.50 199.50,217.50 199.50,216.50 200.50,216.50 201.50,216.50 201.50,215.50 202.50,214.50 202.50,212.50 203.50,210.50 203.50,209.50 204.50,209.50 205.50,208.50 206.50,208.50 206.50,209.50 207.50,209.50 207.50,210.50 208.50,210.50 209.50,212.50 209.50,214.50 210.50,217.50 210.50,219.50 211.50,220.50 211.50,219.50 212.50,215.50 212.50,216.50 213.50,216.50 214.50,214.50 214.50,213.50 214.50,204.50 214.50,201.50 215.50,199.50 215.50,197.50 216.50,195.50 216.50,199.50 216.50,206.50 217.50,207.50 217.50,208.50 218.50,216.50 218.50,220.50 219.50,224.50 219.50,233.50 219.50,235.50 220.50,231.50 220.50,229.50 220.50,228.50 221.50,227.50 221.50,229.50 222.50,235.50 222.50,241.50 223.50,237.50 223.50,232.50 224.50,231.50 224.50,229.50 224.50,228.50 225.50,230.50 225.50,232.50 226.50,231.50 227.50,229.50 228.50,228.50 228.50,226.50 229.50,224.50 229.50,223.50 230.50,223.50 231.50,222.50 232.50,222.50 232.50,221.50 233.50,221.50 233.50,220.50 233.50,221.50 234.50,221.50 234.50,222.50 235.50,226.50 235.50,229.50 235.50,228.50 236.50,226.50 236.50,225.50 237.50,224.50 238.50,223.50 238.50,222.50 239.50,223.50 240.50,223.50 240.50,224.50 240.50,223.50 241.50,223.50 241.50,222.50 242.50,221.50 243.50,221.50 243.50,220.50 244.50,220.50 245.50,219.50 245.50,220.50 246.50,221.50 247.50,222.50 248.50,223.50 248.50,224.50 249.50,225.50 249.50,226.50 250.50,226.50 251.50,226.50 251.50,225.50 252.50,224.50 253.50,223.50 254.50,224.50 254.50,225.50 254.50,224.50 255.50,224.50 256.50,223.50 256.50,222.50 257.50,221.50 258.50,220.50 258.50,219.50 258.50,218.50 259.50,218.50 260.50,218.50 261.50,220.50 261.50,222.50 262.50,222.50 263.50,221.50 263.50,222.50 264.50,223.50 264.50,224.50 264.50,223.50 265.50,222.50 265.50,221.50 266.50,222.50 266.50,223.50 267.50,223.50 267.50,224.50 267.50,220.50 268.50,217.50 269.50,216.50 269.50,215.50 270.50,215.50 271.50,215.50 271.50,216.50 271.50,215.50 272.50,215.50 273.50,215.50 274.50,215.50 275.50,215.50 275.50,216.50 276.50,218.50 276.50,220.50 277.50,221.50 277.50,222.50 278.50,223.50 278.50,224.50 279.50,223.50 279.50,222.50 280.50,222.50 280.50,220.50 281.50,218.50 282.50,218.50 282.50,217.50 283.50,217.50 284.50,218.50 284.50,219.50 285.50,218.50 285.50,217.50 286.50,216.50 287.50,215.50 287.50,214.50 288.50,213.50 289.50,213.50 289.50,212.50 290.50,212.50 290.50,213.50 291.50,214.50 292.50,216.50 292.50,217.50 293.50,217.50 293.50,216.50 294.50,216.50 295.50,216.50 296.50,216.50 297.50,216.50 297.50,215.50 298.50,214.50 299.50,215.50 300.50,216.50 300.50,217.50 301.50,218.50 302.50,218.50 302.50,219.50 303.50,219.50 304.50,219.50 305.50,218.50 305.50,217.50 306.50,217.50 307.50,217.50 307.50,218.50 308.50,218.50 309.50,218.50 310.50,217.50 311.50,216.50 311.50,214.50 312.50,213.50 312.50,212.50 313.50,212.50 314.50,212.50 314.50,213.50 315.50,214.50 315.50,215.50 316.50,215.50 317.50,215.50 317.50,214.50 317.50,211.50 318.50,211.50 318.50,210.50 319.50,209.50 320.50,211.50 320.50,213.50 320.50,214.50 321.50,214.50 322.50,215.50 323.50,215.50 323.50,216.50 324.50,217.50 324.50,219.50 325.50,218.50 326.50,216.50 326.50,214.50 327.50,213.50 328.50,212.50 328.50,211.50 329.50,211.50 329.50,210.50 330.50,209.50 331.50,210.50 332.50,210.50 333.50,209.50 333.50,208.50 334.50,208.50 334.50,209.50 335.50,209.50 335.50,214.50 335.50,217.50 336.50,219.50 336.50,221.50 337.50,220.50 337.50,218.50 338.50,217.50 338.50,218.50 339.50,219.50 339.50,221.50 340.50,222.50 340.50,221.50 341.50,219.50 341.50,217.50 341.50,216.50 342.50,215.50 342.50,214.50 343.50,212.50 344.50,212.50 345.50,212.50 346.50,213.50 346.50,214.50 346.50,213.50 347.50,213.50 347.50,212.50 348.50,212.50 349.50,212.50 349.50,213.50 350.50,215.50 351.50,216.50 351.50,218.50 352.50,218.50 352.50,217.50 353.50,217.50 354.50,217.50 354.50,218.50 355.50,218.50 355.50,219.50 356.50,220.50 356.50,219.50 357.50,218.50 357.50,217.50 358.50,217.50 359.50,217.50 360.50,218.50 361.50,218.50 361.50,217.50 362.50,215.50 362.50,214.50 363.50,214.50 364.50,214.50 364.50,215.50 365.50,216.50 365.50,217.50 365.50,220.50 366.50,221.50 367.50,221.50 367.50,220.50 367.50,221.50 368.50,222.50 368.50,223.50 369.50,223.50 370.50,224.50 371.50,225.50 371.50,226.50 372.50,229.50 372.50,233.50 373.50,229.50 373.50,226.50 374.50,220.50 375.50,214.50 375.50,211.50 375.50,210.50 376.50,207.50 377.50,210.50 377.50,213.50 377.50,215.50 378.50,215.50 379.50,213.50 379.50,211.50 380.50,212.50 380.50,215.50 380.50,216.50 381.50,217.50 381.50,218.50 382.50,217.50 383.50,216.50 383.50,215.50 384.50,216.50 385.50,217.50 385.50,219.50 386.50,221.50 386.50,220.50 387.50,219.50 388.50,218.50 388.50,217.50 388.50,218.50 389.50,220.50 390.50,221.50 390.50,222.50 391.50,221.50 392.50,220.50 393.50,218.50 393.50,217.50 394.50,215.50 394.50,216.50 395.50,217.50 395.50,218.50 396.50,219.50 396.50,221.50 397.50,223.50 397.50,224.50 398.50,223.50 398.50,221.50 399.50,220.50 399.50,219.50 399.50,217.50 400.50,216.50 400.50,215.50 401.50,216.50 401.50,217.50 402.50,218.50 403.50,219.50 403.50,220.50 404.50,221.50 404.50,220.50 405.50,219.50 406.50,219.50 406.50,218.50 407.50,217.50 408.50,216.50 408.50,215.50 408.50,216.50 409.50,218.50 410.50,219.50 411.50,220.50 411.50,221.50 412.50,221.50 413.50,221.50 414.50,221.50 414.50,222.50 415.50,222.50 416.50,223.50 416.50,224.50 417.50,224.50 418.50,224.50 419.50,224.50 419.50,223.50 420.50,222.50 421.50,221.50 421.50,220.50 421.50,218.50 422.50,216.50 422.50,214.50 423.50,213.50 424.50,213.50 425.50,212.50 425.50,210.50 426.50,207.50 427.50,207.50 427.50,206.50 428.50,206.50 429.50,206.50 429.50,205.50 429.50,206.50 430.50,207.50 430.50,208.50 430.50,209.50 431.50,214.50 431.50,218.50 432.50,217.50 432.50,215.50 433.50,213.50 434.50,212.50 434.50,211.50 435.50,210.50 435.50,206.50 436.50,201.50 436.50,200.50 437.50,199.50 437.50,198.50 438.50,200.50 438.50,202.50 439.50,203.50 439.50,205.50 440.50,209.50 440.50,208.50 441.50,207.50 442.50,205.50 442.50,206.50 442.50,211.50 443.50,216.50 443.50,219.50 444.50,222.50 444.50,223.50 445.50,226.50 445.50,231.50 446.50,233.50 446.50,230.50 447.50,226.50 447.50,224.50 448.50,225.50 449.50,226.50 449.50,225.50 450.50,224.50 450.50,223.50 450.50,224.50 451.50,225.50 451.50,226.50 451.50,229.50 452.50,237.50 452.50,239.50 453.50,240.50 453.50,244.50 454.50,250.50 454.50,252.50 455.50,254.50 455.50,256.50 455.50,254.50 456.50,250.50 456.50,246.50 457.50,243.50 457.50,242.50 458.50,243.50 458.50,244.50 458.50,245.50 459.50,247.50 460.50,250.50 460.50,248.50 461.50,245.50 461.50,246.50 461.50,248.50 462.50,249.50 462.50,247.50 463.50,244.50 464.50,244.50 465.50,244.50 465.50,241.50 466.50,239.50 466.50,238.50 466.50,232.50 467.50,230.50 468.50,230.50 468.50,229.50 469.50,229.50 470.50,229.50 470.50,231.50 471.50,234.50 471.50,235.50 471.50,234.50 472.50,233.50 472.50,234.50 473.50,236.50 473.50,238.50 474.50,240.50 474.50,242.50 475.50,244.50 476.50,240.50 476.50,237.50 477.50,234.50 478.50,235.50 479.50,236.50 479.50,237.50 480.50,238.50 481.50,236.50 481.50,234.50 482.50,232.50 482.50,231.50 483.50,230.50 483.50,232.50 484.50,234.50 484.50,235.50 484.50,234.50 485.50,233.50 485.50,232.50 486.50,233.50 486.50,235.50 487.50,237.50 487.50,239.50 488.50,240.50 488.50,239.50 489.50,237.50 489.50,234.50 490.50,233.50 491.50,231.50 491.50,230.50 492.50,231.50 492.50,232.50 493.50,235.50 494.50,237.50 494.50,238.50 494.50,235.50 495.50,233.50 495.50,231.50 496.50,230.50 496.50,229.50 497.50,228.50 497.50,225.50 498.50,224.50 498.50,231.50 498.50,230.50 498.50,229.50 499.50,230.50 499.50,234.50 500.50,235.50 500.50,236.50 501.50,236.50 502.50,236.50 503.50,236.50 504.50,235.50 504.50,234.50 504.50,233.50 505.50,233.50 505.50,231.50 506.50,230.50 506.50,229.50 507.50,229.50 507.50,228.50 508.50,227.50 509.50,228.50 509.50,229.50 510.50,228.50 510.50,227.50 511.50,226.50 512.50,226.50 512.50,225.50 512.50,226.50 513.50,226.50 513.50,225.50 514.50,224.50 514.50,225.50 515.50,227.50 515.50,229.50 516.50,230.50 517.50,230.50 517.50,231.50 518.50,230.50 519.50,230.50 520.50,230.50 520.50,229.50 521.50,228.50 522.50,229.50 522.50,230.50 523.50,231.50 524.50,231.50 525.50,231.50 525.50,230.50 525.50,228.50 526.50,226.50 526.50,228.50 527.50,229.50 528.50,231.50 528.50,232.50 529.50,232.50 529.50,233.50 530.50,233.50 530.50,232.50 531.50,231.50 531.50,230.50 532.50,230.50 533.50,229.50 533.50,228.50 534.50,228.50 535.50,228.50 535.50,226.50 536.50,225.50 536.50,224.50 537.50,223.50 538.50,222.50 539.50,222.50 540.50,222.50 540.50,221.50 541.50,221.50 542.50,222.50 543.50,222.50 543.50,221.50 544.50,223.50 544.50,224.50 545.50,224.50 546.50,223.50 546.50,222.50 547.50,222.50 548.50,222.50 548.50,223.50 549.50,225.50 549.50,226.50 549.50,225.50 550.50,224.50 551.50,224.50 552.50,224.50 553.50,225.50 553.50,224.50 554.50,224.50 554.50,223.50 555.50,221.50 556.50,219.50 556.50,218.50 556.50,219.50 557.50,219.50 557.50,220.50 558.50,220.50 559.50,220.50 559.50,221.50 560.50,221.50 560.50,220.50 561.50,219.50 561.50,218.50 562.50,219.50 562.50,220.50 563.50,221.50 564.50,223.50 564.50,225.50 564.50,224.50 565.50,222.50 566.50,220.50 566.50,219.50 567.50,219.50 567.50,220.50 568.50,221.50 569.50,222.50 569.50,220.50 570.50,218.50 570.50,217.50 571.50,216.50 572.50,216.50 572.50,217.50 573.50,217.50 574.50,218.50 574.50,219.50 574.50,218.50 575.50,217.50 575.50,215.50 576.50,214.50 577.50,215.50 577.50,216.50 578.50,215.50 579.50,213.50 579.50,214.50 580.50,216.50 580.50,218.50 580.50,222.50" fill="none" stroke="#000" stroke-width="1.35" stroke-linejoin="round"/>
</g>
<g>
<text x="100" y="170" font-family="DejaVu Sans, Liberation Sans, sans-serif" font-size="12" >0</text><text x="92 100" y="139" font-family="DejaVu Sans, Liberation Sans, sans-serif" font-size="12" >20</text><text x="92 100" y="108" font-family="DejaVu Sans, Liberation Sans, sans-serif" font-size="12" >40</text><text x="92 100" y="77" font-family="DejaVu Sans, Liberation Sans, sans-serif" font-size="12" >60</text><text x="92 100" y="46" font-family="DejaVu Sans, Liberation Sans, sans-serif" font-size="12" >80</text><text x="80 84 92 100" y="327" font-family="DejaVu Sans, Liberation Sans, sans-serif" font-size="12" >-150</text><text x="80 84 92 100" y="292" font-family="DejaVu Sans, Liberation Sans, sans-serif" font-size="12" >-100</text><text x="88 92 100" y="257" font-family="DejaVu Sans, Liberation Sans, sans-serif" font-size="12" >-50</text><text x="100" y="222" font-family="DejaVu Sans, Liberation Sans, sans-serif" font-size="12" >0</text><text x="96 100" y="478" font-family="DejaVu Sans, Liberation Sans, sans-serif" font-size="12" >-1</text><text x="100" y="460" font-family="DejaVu Sans, Liberation Sans, sans-serif" font-size="12" >0</text><text x="100" y="441" font-family="DejaVu Sans, Liberation Sans, sans-serif" font-size="12" >1</text><text x="100" y="423" font-family="DejaVu Sans, Liberation Sans, sans-serif" font-size="12" >2</text><text x="100" y="404" font-family="DejaVu Sans, Liberation Sans, sans-serif" font-size="12" >3</text><text x="100" y="386" font-family="DejaVu Sans, Liberation Sans, sans-serif" font-size="12" >4</text><text x="100" y="367" font-family="DejaVu Sans, Liberation Sans, sans-serif" font-size="12" >5</text><text x="100" y="349" font-family="DejaVu Sans, Liberation Sans, sans-serif" font-size="12" >6</text><text x="616.6 624.6" y="346" font-family="DejaVu Sans, Liberation Sans, sans-serif" font-size="12" >10</text><text x="633.8" y="340" font-family="DejaVu Sans, Liberation Sans, sans-serif" font-size="12" >3</text><text x="616.6 624.6" y="378" font-family="DejaVu Sans, Liberation Sans, sans-serif" font-size="12" >10</text><text x="633.8" y="372" font-family="DejaVu Sans, Liberation Sans, sans-serif" font-size="12" >2</text><text x="616.6 624.6" y="410" font-family="DejaVu Sans, Liberation Sans, sans-serif" font-size="12" >10</text><text x="633.8" y="404" font-family="DejaVu Sans, Liberation Sans, sans-serif" font-size="12" >1</text><text x="616.6 624.6" y="442" font-family="DejaVu Sans, Liberation Sans, sans-serif" font-size="12" >10</text><text x="633.8" y="436" font-family="DejaVu Sans, Liberation Sans, sans-serif" font-size="12" >0</text><text x="616.6 624.6" y="475" font-family="DejaVu Sans, Liberation Sans, sans-serif" font-size="12" >10</text><text x="633.8 637.8" y="469" font-family="DejaVu Sans, Liberation Sans, sans-serif" font-size="12" >-1</text><text transform="translate(47,101) rotate(-90)" x="-8 0" y="0" font-family="DejaVu Sans, Liberation Sans, sans-serif" font-size="12">Kp</text><text transform="translate(59,104) rotate(-90)" x="-44 -39 -32 -28 -20 -16 -12 -4 6 10 20 24 32 40" y="0" font-family="DejaVu Sans, Liberation Sans, sans-serif" font-size="12">(e.g. 3+ = 33,</text><text transform="translate(71,104) rotate(-90)" x="-25 -17 -13 -9 1 5 13 21" y="0" font-family="DejaVu Sans, Liberation Sans, sans-serif" font-size="12">6- = 57,</text><text transform="translate(83,104) rotate(-90)" x="-39 -31 -27 -17 -13 -5 3 7 11 18 23 30 34" y="0" font-family="DejaVu Sans, Liberation Sans, sans-serif" font-size="12">4 = 40, etc.)</text><text transform="translate(70.7,255) rotate(-90)" x="-12 -3 5" y="0" font-family="DejaVu Sans, Liberation Sans, sans-serif" font-size="12">DST</text><text transform="translate(86.9,408.6) rotate(-90)" x="-35 -28 -23 -15 -10 -2 6 10 17 20 28" y="0" font-family="DejaVu Sans, Liberation Sans, sans-serif" font-size="12">Proton Flux</text><text x="84.1 92.1 100.1 108.1 116.1 120.1 128.1 136.1 140.1 148.1" y="504" font-family="DejaVu Sans, Liberation Sans, sans-serif" font-size="12" >2007-05-01</text><text x="232.1 240.1 248.1 256.1 264.1 268.1 276.1 284.1 288.1 296.1" y="504" font-family="DejaVu Sans, Liberation Sans, sans-serif" font-size="12" >2007-05-11</text><text x="381.1 389.1 397.1 405.1 413.1 417.1 425.1 433.1 437.1 445.1" y="504" font-family="DejaVu Sans, Liberation Sans, sans-serif" font-size="12" >2007-05-21</text><text x="530.1 538.1 546.1 554.1 562.1 566.1 574.1 582.1 586.1 594.1" y="504" font-family="DejaVu Sans, Liberation Sans, sans-serif" font-size="12" >2007-05-31</text>
</g>
</svg>
</body></html>
